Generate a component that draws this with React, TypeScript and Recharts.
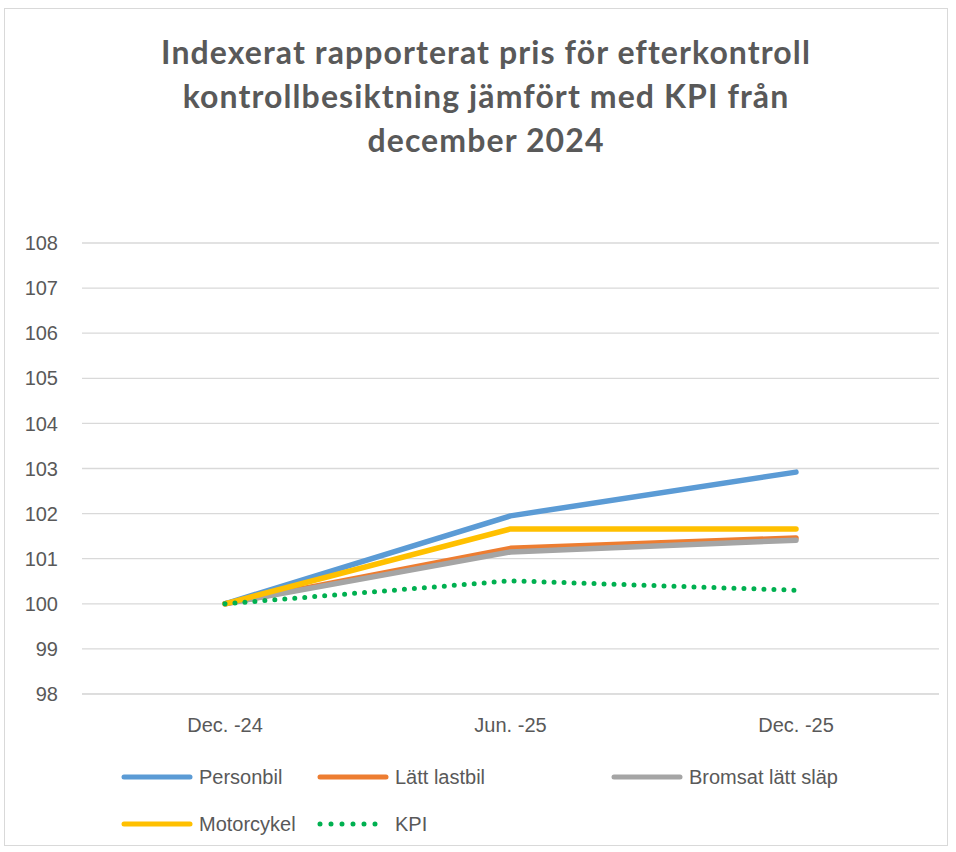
import React from "react";
import { LineChart, Line, XAxis, YAxis, CartesianGrid } from "recharts";

const categories = ["Dec. -24", "Jun. -25", "Dec. -25"];
const personbil = [100, 101.95, 102.92];
const lattLastbil = [100, 101.23, 101.46];
const bromsatSlap = [100, 101.15, 101.41];
const motorcykel = [100, 101.66, 101.66];
const kpi = [100, 100.51, 100.3];
const yTicks = [98, 99, 100, 101, 102, 103, 104, 105, 106, 107, 108];

const series = [
  { key: "personbil", name: "Personbil", values: personbil, color: "#5B9BD5", dotted: false },
  { key: "lattLastbil", name: "Lätt lastbil", values: lattLastbil, color: "#ED7D31", dotted: false },
  { key: "bromsatSlap", name: "Bromsat lätt släp", values: bromsatSlap, color: "#A5A5A5", dotted: false },
  { key: "motorcykel", name: "Motorcykel", values: motorcykel, color: "#FFC000", dotted: false },
  { key: "kpi", name: "KPI", values: kpi, color: "#00B050", dotted: true },
];

const data = categories.map((c, i) => {
  const row: Record<string, string | number> = { cat: c };
  series.forEach((s) => (row[s.key] = s.values[i]));
  return row;
});

const TITLE_FONT = "Lato, 'Open Sans', sans-serif";
const FONT = "'Liberation Sans', Arial, sans-serif";
const TEXT = "#595959";

const legendPos = [
  { left: 119, top: 765 },
  { left: 315, top: 765 },
  { left: 609, top: 765 },
  { left: 119, top: 812 },
  { left: 315, top: 812 },
];

export default function App() {
  return (
    <div
      style={{
        position: "absolute",
        left: 0,
        top: 0,
        width: 956,
        height: 852,
        background: "#fff",
        fontFamily: FONT,
      }}
    >
      <div
        style={{
          position: "absolute",
          left: 4,
          top: 8,
          width: 942,
          height: 836,
          border: "1px solid #d9d9d9",
        }}
      />
      <div
        style={{
          position: "absolute",
          left: 0,
          top: 30,
          width: 972,
          textAlign: "center",
          fontFamily: TITLE_FONT,
          fontSize: 32,
          lineHeight: "44px",
          fontWeight: 700,
          color: TEXT,
          letterSpacing: 1.1,
        }}
      >
        Indexerat rapporterat pris för efterkontroll
        <br />
        kontrollbesiktning jämfört med KPI från
        <br />
        december 2024
      </div>
      <LineChart
        width={956}
        height={852}
        data={data}
        margin={{ top: 243, right: 17, bottom: 118, left: 0 }}
        style={{ position: "absolute", left: 0, top: 0 }}
      >
        <CartesianGrid vertical={false} stroke="#d9d9d9" strokeWidth={1.3} />
        <XAxis
          dataKey="cat"
          height={40}
          padding={{ left: 143, right: 143 }}
          axisLine={{ stroke: "#d9d9d9" }}
          tickLine={false}
          tick={{ fill: TEXT, fontSize: 20, fontFamily: FONT }}
          tickMargin={18}
        />
        <YAxis
          width={82}
          domain={[98, 108]}
          ticks={yTicks}
          axisLine={false}
          tickLine={false}
          tick={{ fill: TEXT, fontSize: 20, fontFamily: FONT }}
          tickMargin={18}
        />
        {series.map((s) => (
          <Line
            key={s.key}
            dataKey={s.key}
            name={s.name}
            type="linear"
            stroke={s.color}
            strokeWidth={s.dotted ? 5 : 5.5}
            strokeLinecap="round"
            strokeLinejoin="round"
            strokeDasharray={s.dotted ? "0 10" : undefined}
            dot={false}
            activeDot={false}
            isAnimationActive={false}
          />
        ))}
      </LineChart>
      {series.map((s, i) => (
        <div
          key={s.key}
          style={{
            position: "absolute",
            left: legendPos[i].left,
            top: legendPos[i].top,
            display: "flex",
            alignItems: "center",
            height: 24,
            fontSize: 20,
            color: TEXT,
          }}
        >
          <svg width={78} height={10} style={{ marginRight: 2 }}>
            <line
              x1={5}
              y1={5}
              x2={71}
              y2={5}
              stroke={s.color}
              strokeWidth={5}
              strokeLinecap="round"
              strokeDasharray={s.dotted ? "0 11" : undefined}
            />
          </svg>
          {s.name}
        </div>
      ))}
    </div>
  );
}
